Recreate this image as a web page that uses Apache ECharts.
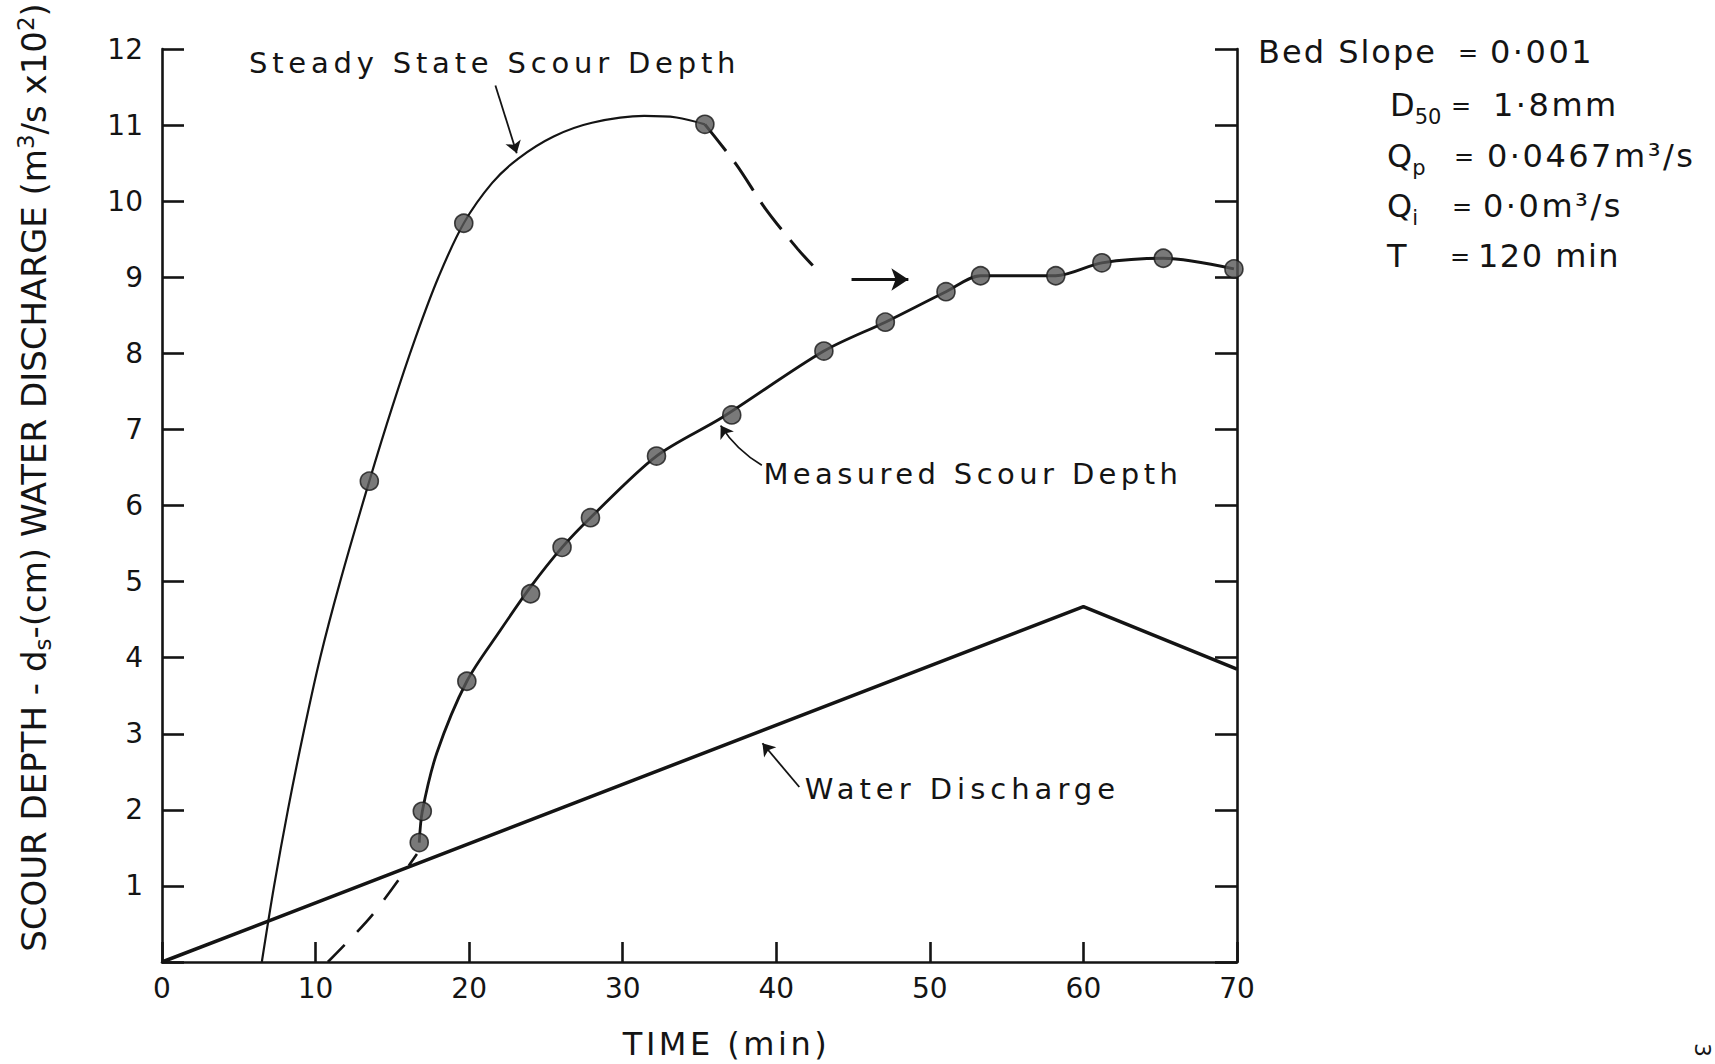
<!DOCTYPE html>
<html>
<head>
<meta charset="utf-8">
<title>Scour depth and water discharge versus time</title>
<script src="https://cdn.jsdelivr.net/npm/echarts@6/dist/echarts.min.js"></script>
<style>
  html, body { margin: 0; padding: 0; background: #ffffff; }
  #chart { width: 1715px; height: 1064px; }
</style>
</head>
<body>
<div id="chart"></div>
<script>
// ---- Data -----------------------------------------------------------------

// Axis ranges (time in minutes, depth in cm / discharge in m3/s x 10^2)
const timeTicks = [0, 10, 20, 30, 40, 50, 60, 70];
const depthTicks = [0, 1, 2, 3, 4, 5, 6, 7, 8, 9, 10, 11, 12];

// Triangular inflow hydrograph
const dischargeTime = [0, 60, 70];
const dischargeValue = [0, 4.67, 3.85];

// Steady state scour depth: drawn curve and the computed points on it
const steadyCurveTime = [6.5, 7.3, 8.2, 9.2, 10.3, 11.6, 13.5, 15.0, 16.5, 18.0, 19.65, 21.5, 23.2, 25.5, 28.0, 31.4, 33.5, 35.35];
const steadyCurveDepth = [0, 1.0, 2.0, 3.0, 4.0, 5.0, 6.32, 7.3, 8.2, 9.0, 9.71, 10.24, 10.56, 10.85, 11.03, 11.12, 11.1, 11.01];
const steadyPointTime = [13.5, 19.65, 35.35];
const steadyPointDepth = [6.32, 9.71, 11.01];

// Dashed transition from the steady state peak toward the measured plateau
const transitionTime = [35.35, 37.4, 39.3, 41.4, 43.0];
const transitionDepth = [11.01, 10.48, 9.9, 9.37, 9.02];

// Measured scour depth
const measuredTime = [16.75, 16.95, 19.85, 24.0, 26.05, 27.9, 32.2, 37.1, 43.1, 47.1, 51.05, 53.3, 58.2, 61.2, 65.2, 69.8];
const measuredDepth = [1.57, 1.98, 3.69, 4.84, 5.45, 5.84, 6.65, 7.19, 8.03, 8.41, 8.81, 9.02, 9.02, 9.19, 9.25, 9.11];

// Curve drawn through the measured data
const measuredCurveTime = [16.75, 16.95, 17.9, 19.85, 22.0, 24.0, 26.05, 27.9, 32.2, 36.5, 43.1, 47.1, 51.05, 53.3, 58.2, 61.2, 65.2, 69.8];
const measuredCurveDepth = [1.57, 1.98, 2.75, 3.69, 4.35, 4.93, 5.45, 5.84, 6.65, 7.16, 8.03, 8.41, 8.81, 9.02, 9.02, 9.19, 9.25, 9.11];

// Dashed extension of the measured curve back to zero depth
const extensionTime = [10.8, 13.7, 16.6];
const extensionDepth = [0, 0.62, 1.42];

// Run conditions
const conditionLabels = ['Bed Slope', 'D{sub|50}', 'Q{sub|p}', 'Q{sub|i}', 'T'];
const conditionValues = ['0·001', '1·8mm', '0·0467m³/s', '0·0m³/s', '120 min'];

// ---- Chart ----------------------------------------------------------------

const FONT = 'DejaVu Sans';
const INK = '#141414';
const pairs = (xs, ys) => xs.map((x, i) => [x, ys[i]]);

const chart = echarts.init(document.getElementById('chart'), null, { renderer: 'svg' });

const baseAxisLine = { show: true, onZero: false, lineStyle: { color: INK, width: 2.6 } };
const baseTick = (len) => ({ show: true, inside: true, length: len, lineStyle: { color: INK, width: 2.6 } });

const markerStyle = { color: '#575757', borderColor: '#161616', borderWidth: 1.6 };

const option = {
  animation: false,
  backgroundColor: '#ffffff',
  grid: { left: 162, right: 478, top: 49, bottom: 102, outerBoundsMode: 'none', containLabel: false },
  xAxis: {
    type: 'value',
    min: timeTicks[0],
    max: timeTicks[timeTicks.length - 1],
    interval: timeTicks[1] - timeTicks[0],
    name: 'TIME (min)',
    nameLocation: 'middle',
    nameGap: 66,
    nameTextStyle: { fontFamily: FONT, fontSize: 32, color: INK, padding: [0, 0, 0, 54] },
    axisLine: baseAxisLine,
    axisTick: baseTick(20),
    axisLabel: { fontFamily: FONT, fontSize: 28, color: INK, margin: 12, hideOverlap: false, showMinLabel: true, showMaxLabel: true },
    splitLine: { show: false }
  },
  yAxis: [
    {
      type: 'value',
      position: 'left',
      min: depthTicks[0],
      max: depthTicks[depthTicks.length - 1],
      interval: depthTicks[1] - depthTicks[0],
      name: '{t|SCOUR DEPTH - d}{sub|s}{t|-(cm) WATER DISCHARGE (m}{sup|3}{t|/s x10}{sup|2}{t|)}',
      nameLocation: 'middle',
      nameRotate: 90,
      nameGap: 108,
      nameTextStyle: {
        color: INK,
        padding: [0, 0, 0, 56],
        rich: {
          t: { fontFamily: FONT, fontSize: 34, color: INK, lineHeight: 40, verticalAlign: 'middle' },
          sub: { fontFamily: FONT, fontSize: 23, color: INK, lineHeight: 22, verticalAlign: 'bottom' },
          sup: { fontFamily: FONT, fontSize: 23, color: INK, lineHeight: 22, verticalAlign: 'top' }
        }
      },
      axisLine: baseAxisLine,
      axisTick: baseTick(22),
      axisLabel: {
        fontFamily: FONT, fontSize: 28, color: INK, margin: 19, hideOverlap: false,
        formatter: (v) => (v === 0 ? '' : String(v))
      },
      splitLine: { show: false }
    },
    {
      type: 'value',
      position: 'right',
      min: depthTicks[0],
      max: depthTicks[depthTicks.length - 1],
      interval: depthTicks[1] - depthTicks[0],
      axisLine: baseAxisLine,
      axisTick: baseTick(22),
      axisLabel: { show: false },
      splitLine: { show: false }
    }
  ],
  series: [
    {
      name: 'Water Discharge',
      type: 'line',
      data: pairs(dischargeTime, dischargeValue),
      symbol: 'none',
      lineStyle: { color: INK, width: 3.5 },
      z: 3
    },
    {
      name: 'Steady State Scour Depth',
      type: 'line',
      data: pairs(steadyCurveTime, steadyCurveDepth),
      smooth: 0.35,
      symbol: 'none',
      lineStyle: { color: INK, width: 2.2 },
      z: 3
    },
    {
      name: 'Transition',
      type: 'line',
      data: pairs(transitionTime, transitionDepth),
      smooth: 0.3,
      symbol: 'none',
      lineStyle: { color: INK, width: 3, type: [34, 14] },
      z: 3
    },
    {
      name: 'Measured Scour Depth',
      type: 'line',
      data: pairs(measuredCurveTime, measuredCurveDepth),
      smooth: 0.3,
      symbol: 'none',
      lineStyle: { color: INK, width: 2.8 },
      z: 3
    },
    {
      name: 'Measured extension',
      type: 'line',
      data: pairs(extensionTime, extensionDepth),
      smooth: 0.3,
      symbol: 'none',
      lineStyle: { color: INK, width: 2.6, type: [24, 18] },
      z: 3
    },
    {
      name: 'Steady State points',
      type: 'scatter',
      data: pairs(steadyPointTime, steadyPointDepth),
      symbol: 'circle',
      symbolSize: 18,
      itemStyle: markerStyle,
      z: 5
    },
    {
      name: 'Measured points',
      type: 'scatter',
      data: pairs(measuredTime, measuredDepth),
      symbol: 'circle',
      symbolSize: 18,
      itemStyle: markerStyle,
      z: 5
    },
    {
      // thin leader arrows from the curve labels
      name: 'Leaders',
      type: 'lines',
      coordinateSystem: 'cartesian2d',
      symbol: ['none', 'arrow'],
      symbolSize: 12,
      lineStyle: { color: INK, width: 1.8, opacity: 1 },
      data: [
        { coords: [[21.71, 11.52], [23.1, 10.63]] },
        { coords: [[39.06, 6.53], [36.38, 7.05]], lineStyle: { curveness: 0.12 } },
        { coords: [[41.5, 2.30], [39.1, 2.875]] }
      ],
      z: 4
    },
    {
      // bold arrow pointing from the steady state peak to the measured plateau
      name: 'Shift arrow',
      type: 'lines',
      coordinateSystem: 'cartesian2d',
      symbol: ['none', 'arrow'],
      symbolSize: 17,
      lineStyle: { color: INK, width: 3.2, opacity: 1 },
      data: [{ coords: [[44.9, 8.97], [48.6, 8.97]] }],
      z: 4
    }
  ]
};

chart.setOption(option);

// ---- Labels ----------------------------------------------------------------

const toPx = (t, d) => chart.convertToPixel({ gridIndex: 0 }, [t, d]);

function annotation(text, t, d) {
  const p = toPx(t, d);
  return {
    type: 'text',
    x: p[0], y: p[1],
    style: { text, fontFamily: FONT, fontSize: 29, fill: INK, textAlign: 'left', textVerticalAlign: 'middle' },
    z: 10
  };
}

const subRich = {
  sub: { fontFamily: FONT, fontSize: 21, fill: INK, lineHeight: 22, verticalAlign: 'bottom' }
};

const rowY = [52, 105, 156, 206, 256];
const labelX = [1258, 1390, 1387, 1387, 1387];
const eqX = [1468, 1461, 1464, 1462, 1460];
const valueX = [1490, 1493, 1487, 1483, 1478];

const conditionText = [];
conditionLabels.forEach((lab, i) => {
  conditionText.push({
    type: 'text', x: labelX[i], y: rowY[i],
    style: { text: lab, fontFamily: FONT, fontSize: 32, fill: INK, lineHeight: 44, textAlign: 'left', textVerticalAlign: 'middle', rich: subRich },
    z: 10
  });
  conditionText.push({
    type: 'text', x: eqX[i], y: rowY[i] + 1,
    style: { text: '=', fontFamily: FONT, fontSize: 24, fill: INK, textAlign: 'center', textVerticalAlign: 'middle' },
    z: 10
  });
  conditionText.push({
    type: 'text', x: valueX[i], y: rowY[i],
    style: { text: conditionValues[i], fontFamily: FONT, fontSize: 32, fill: INK, textAlign: 'left', textVerticalAlign: 'middle' },
    z: 10
  });
});

chart.setOption({
  graphic: [
    annotation('Steady State Scour Depth', 5.66, 11.81),
    annotation('Measured Scour Depth', 39.16, 6.41),
    annotation('Water Discharge', 41.86, 2.28),
    ...conditionText,
    {
      // sheet number at the page edge
      type: 'text', x: 1702, y: 1050, rotation: -Math.PI / 2,
      style: { text: '3', fontFamily: FONT, fontSize: 22, fill: INK, textAlign: 'center', textVerticalAlign: 'middle' },
      z: 10
    }
  ]
});

// Hand-lettered labels are widely spaced; widen the SVG text tracking.
const tracking = {
  'Steady State Scour Depth': 4.8,
  'Measured Scour Depth': 4.4,
  'Water Discharge': 5,
  'TIME (min)': 3.5,
  'Bed Slope': 2,
  '0·001': 2.5,
  '1·8mm': 2.5,
  '0·0467m³/s': 2.5,
  '0·0m³/s': 2.5,
  '120 min': 1.5
};
function applyTracking() {
  document.querySelectorAll('#chart svg text').forEach((el) => {
    const s = tracking[el.textContent];
    if (s != null) el.setAttribute('letter-spacing', s + 'px');
  });
}
applyTracking();
chart.on('finished', applyTracking);
setTimeout(applyTracking, 100);
</script>
</body>
</html>
